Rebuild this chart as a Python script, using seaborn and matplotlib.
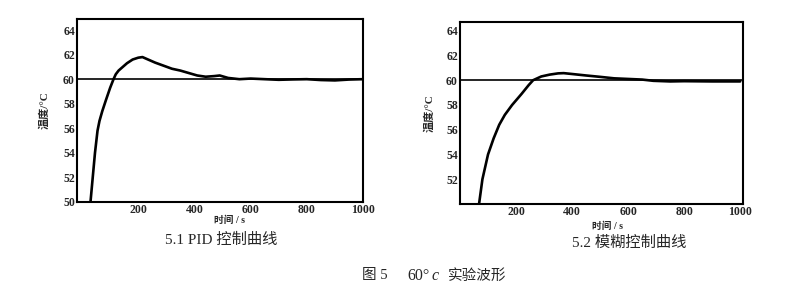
import matplotlib
matplotlib.use("Agg")
import matplotlib.pyplot as plt
import seaborn as sns
import pandas as pd

# PID control curve (5.1)
pid_time = [30, 38, 46, 55, 62, 72, 85, 100, 112, 120, 130, 145, 160, 180, 200, 215, 230, 260,
            290, 320, 350, 380, 410, 440, 470, 490, 520, 560, 600, 650, 700, 750, 800, 850,
            900, 950, 1000]
pid_temp = [50.0, 52.0, 54.0, 55.8, 56.6, 57.4, 58.3, 59.3, 60.0, 60.4, 60.7, 61.0, 61.3, 61.6,
            61.75, 61.8, 61.65, 61.35, 61.1, 60.85, 60.7, 60.5, 60.3, 60.2, 60.25, 60.3, 60.1,
            60.0, 60.05, 60.0, 59.95, 59.98, 60.0, 59.93, 59.9, 59.97, 60.0]

# Fuzzy control curve (5.2)
fuzzy_time = [68, 80, 100, 120, 140, 160, 186, 220, 245, 261, 290, 320, 350, 370, 400, 450,
              500, 550, 600, 650, 690, 750, 800, 900, 1000]
fuzzy_temp = [50.0, 52.0, 54.0, 55.3, 56.4, 57.2, 58.0, 58.9, 59.6, 60.0, 60.3, 60.45, 60.55,
              60.57, 60.5, 60.38, 60.27, 60.15, 60.1, 60.05, 59.95, 59.9, 59.92, 59.9, 59.9]

setpoint = 60
pid_yticks = [50, 52, 54, 56, 58, 60, 62, 64]
fuzzy_yticks = [52, 54, 56, 58, 60, 62, 64]
xticks = [200, 400, 600, 800, 1000]
ylabel = "温度/°C"
xlabel = "时间 / s"
caption1 = "5.1 PID 控制曲线"
caption2 = "5.2 模糊控制曲线"

sns.set_style("white")
plt.rcParams['font.family'] = ['Liberation Serif', 'Noto Sans CJK SC', 'DejaVu Sans']

fig = plt.figure(figsize=(8.08, 2.85), dpi=100)
ax1 = fig.add_axes([77/808, 1-202/285, (363-77)/808, (202-19)/285])
ax2 = fig.add_axes([460/808, 1-204/285, (743-460)/808, (204-22)/285])

df1 = pd.DataFrame({"t": pid_time, "T": pid_temp})
df2 = pd.DataFrame({"t": fuzzy_time, "T": fuzzy_temp})

for ax, df, yt, xl, yl in [(ax1, df1, pid_yticks, (-18, 1000), (50, 64.9)),
                           (ax2, df2, fuzzy_yticks, (0, 1010), (50, 64.7))]:
    ax.axhline(setpoint, color="black", lw=1.2, zorder=1)
    sns.lineplot(data=df, x="t", y="T", ax=ax, color="black", lw=1.9, sort=False, zorder=2)
    ax.set_xlim(*xl)
    ax.set_ylim(*yl)
    ax.set_xticks(xticks)
    ax.set_yticks(yt)
    ax.tick_params(axis="both", direction="in", length=3, width=1, labelsize=8.5, pad=1.5)
    for lab in ax.get_xticklabels() + ax.get_yticklabels():
        lab.set_fontweight("bold")
    for sp in ax.spines.values():
        sp.set_linewidth(1.5)
        sp.set_color("black")
    ax.set_xlabel("")
    ax.set_ylabel("")

fig.text(44/808, 1-110/285, ylabel, rotation=90, ha="center", va="center",
         fontsize=8, fontweight="bold")
fig.text(429/808, 1-113/285, ylabel, rotation=90, ha="center", va="center",
         fontsize=8, fontweight="bold")
fig.text(230/808, 1-220/285, xlabel, ha="center", va="center", fontsize=7, fontweight="bold")
fig.text(608/808, 1-226/285, xlabel, ha="center", va="center", fontsize=7, fontweight="bold")

fig.text(221/808, 1-240/285, caption1, ha="center", va="center", fontsize=11)
fig.text(629/808, 1-243/285, caption2, ha="center", va="center", fontsize=11)

fig.text(362/808, 1-275/285, "图 5", ha="left", va="center", fontsize=10.5)
fig.text(407/808, 1-276/285, "60°", ha="left", va="center", fontsize=11.5)
fig.text(432/808, 1-276/285, "c", ha="left", va="center", fontsize=11.5, style="italic")
fig.text(448/808, 1-276/285, "实验波形", ha="left", va="center", fontsize=10.5)

fig.savefig("out.png", dpi=100)
